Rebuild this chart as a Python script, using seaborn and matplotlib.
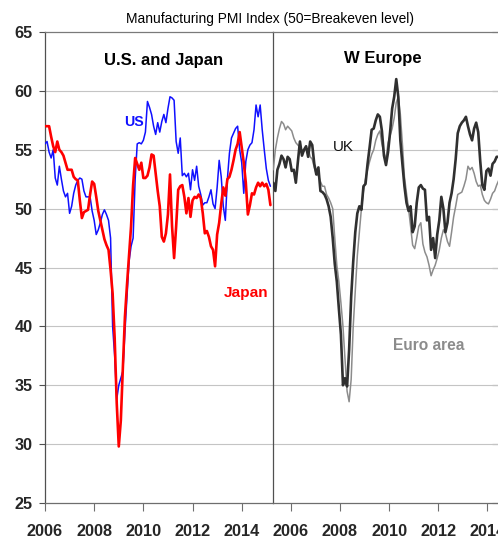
import numpy as np
import pandas as pd
import matplotlib
matplotlib.use("Agg")
import matplotlib.pyplot as plt
import seaborn as sns
from matplotlib import font_manager

# ---------------- data (monthly) ----------------
us = [55.5, 55.7, 54.8, 54.3, 55.0, 52.6, 52.0, 53.6, 52.5, 51.5,
      51.0, 51.3, 49.6, 50.2, 51.3, 52.0, 52.4, 52.6, 52.5, 51.5,
      51.0, 51.0, 51.0, 49.8, 49.0, 47.8, 48.2, 48.8, 49.5, 49.9,
      49.5, 49.0, 47.5, 40.0, 37.5, 33.8, 35.0, 35.6, 36.2, 39.5,
      42.5, 45.5, 46.8, 47.5, 52.5, 55.5, 55.6, 55.5, 55.8, 56.5,
      59.1, 58.6, 58.0, 57.0, 56.3, 57.3, 56.5, 57.4, 58.0, 57.3,
      58.5, 59.5, 59.4, 59.2, 55.7, 54.7, 56.0, 52.8, 53.0, 52.7,
      53.0, 51.6, 53.3, 52.4, 53.6, 51.9, 51.2, 50.3, 50.5, 50.5,
      51.0, 51.6, 50.4, 50.0, 51.8, 54.1, 52.7, 50.2, 49.0, 52.5,
      54.7, 56.0, 56.4, 56.8, 57.0, 55.0, 53.9, 51.3, 54.0, 55.0,
      55.4, 55.6, 56.7, 58.8, 57.8, 58.8, 56.7, 55.0, 53.4, 52.4,
      51.9]
japan = [57.0, 57.0, 57.0, 56.1, 55.3, 54.8, 55.7, 55.0, 54.8, 54.5,
         53.9, 53.3, 53.3, 53.3, 52.7, 52.5, 52.4, 50.7, 49.2, 49.7,
         49.8, 49.9, 51.2, 52.3, 52.1, 51.0, 49.8, 49.0, 48.2, 47.4,
         46.9, 46.5, 44.8, 42.8, 39.0, 33.5, 29.8, 32.0, 36.5, 40.8,
         43.5, 46.0, 48.5, 52.0, 54.3, 53.8, 53.3, 53.9, 52.6, 52.6,
         52.8, 53.5, 54.6, 54.5, 53.0, 51.5, 50.2, 47.6, 47.2, 47.9,
         49.5, 52.9, 48.5, 45.8, 48.5, 51.6, 51.9, 52.0, 51.0, 49.6,
         50.9, 49.3, 50.7, 51.0, 50.9, 51.2, 50.9, 49.6, 47.9, 48.1,
         47.6, 46.8, 46.5, 45.1, 47.8, 48.8, 50.4, 51.8, 51.1, 52.5,
         52.7, 53.3, 54.1, 55.0, 55.5, 56.5, 55.2, 53.9, 52.2, 49.5,
         50.3, 51.3, 51.2, 51.8, 52.2, 51.9, 52.2, 51.9, 52.1, 51.6,
         50.3]
uk = [52.2, 51.5, 53.3, 53.8, 54.5, 54.2, 53.5, 54.4, 54.2, 53.2,
      53.3, 52.2, 54.0, 55.7, 54.5, 55.0, 55.3, 54.4, 55.7, 55.4,
      53.8, 52.9, 53.5, 51.5, 51.4, 51.2, 50.8, 50.2, 49.3, 47.5,
      45.3, 43.8, 41.5, 39.3, 35.0, 35.6, 34.9, 38.0, 42.5, 45.5,
      48.0, 49.6, 50.2, 49.9, 51.9, 52.1, 53.8, 55.2, 56.7, 56.8,
      57.5, 58.0, 57.8, 56.6, 54.5, 53.7, 54.8, 56.5, 58.5, 59.5,
      61.0, 59.5, 55.8, 53.8, 51.9, 50.5, 49.8, 50.2, 48.0, 48.5,
      50.5, 51.8, 52.0, 51.7, 51.6, 49.0, 49.3, 46.5, 47.5, 45.8,
      47.8, 49.0, 51.0, 50.0, 48.0, 48.8, 50.5, 51.3, 52.5, 54.2,
      56.4, 57.0, 57.3, 57.5, 57.8, 57.0, 56.3, 55.8, 56.8, 57.3,
      56.5, 54.0, 52.0, 51.6, 53.2, 53.4, 52.8, 53.8, 54.0, 54.4,
      54.4]
euro = [53.3, 55.0, 56.0, 56.8, 57.4, 57.2, 56.7, 57.0, 56.8, 56.6,
        56.0, 55.6, 55.4, 55.2, 55.0, 54.9, 55.0, 55.1, 54.4, 54.2,
        53.5, 52.9, 52.8, 52.3, 51.9, 51.9, 51.2, 50.9, 50.5, 50.0,
        47.5, 45.2, 43.8, 42.0, 40.0, 37.2, 34.5, 33.6, 35.5, 40.0,
        43.0, 46.0, 48.0, 50.0, 51.5, 52.5, 53.3, 54.0, 54.6, 55.0,
        55.8, 56.3, 56.6, 55.5, 54.7, 54.2, 55.6, 56.2, 56.8, 57.7,
        59.0, 59.5, 58.0, 55.5, 52.7, 51.3, 50.0, 48.5, 46.9, 46.6,
        47.5, 48.5, 48.8, 47.0, 46.3, 45.9, 45.2, 44.3, 44.8, 45.2,
        45.8, 46.5, 47.5, 48.2, 47.9, 47.2, 46.8, 48.0, 49.3, 50.2,
        51.2, 51.3, 51.4, 51.9, 52.5, 53.6, 53.3, 53.5, 53.0, 52.3,
        51.9, 52.0, 51.2, 50.7, 50.5, 50.4, 50.8, 51.3, 51.5, 52.0,
        52.4]
tick_years = [2006, 2008, 2010, 2012, 2014]
y_ticks = [25, 30, 35, 40, 45, 50, 55, 60, 65]
title = "Manufacturing PMI Index (50=Breakeven level)"

# ---------------- style ----------------
sns.set_style("white")
names = {f.name for f in font_manager.fontManager.ttflist}
NARROW = "Liberation Sans Narrow" in names
if NARROW:
    fam = ["Liberation Sans Narrow", "Liberation Sans", "DejaVu Sans"]
    k = 1 / 0.82
else:
    fam = ["Liberation Sans", "DejaVu Sans"]
    k = 1.0
plt.rcParams["font.family"] = fam

W, H = 498, 550
fig = plt.figure(figsize=(W / 100, H / 100), dpi=100)
x0, xdiv, xr = 45.0, 273.3, 498.0
ytop, ybot = 32.0, 503.0
pxyr = 24.59
axL = fig.add_axes([x0 / W, 1 - ybot / H, (xdiv - x0) / W, (ybot - ytop) / H])
axR = fig.add_axes([xdiv / W, 1 - ybot / H, (xr - xdiv) / W, (ybot - ytop) / H])

left_start = 2006.0
right_start = 2005.29

dfL = pd.DataFrame({"x": left_start + np.arange(len(us)) / 12.0,
                    "US": us, "Japan": japan})
dfR = pd.DataFrame({"x": right_start + np.arange(len(uk)) / 12.0,
                    "UK": uk, "Euro": euro})

sns.lineplot(data=dfL, x="x", y="US", ax=axL, color="#1010ff",
             linewidth=1.1, estimator=None, zorder=3)
sns.lineplot(data=dfL, x="x", y="Japan", ax=axL, color="#ff0000",
             linewidth=1.9, estimator=None, zorder=4)
sns.lineplot(data=dfR, x="x", y="Euro", ax=axR, color="#8c8c8c",
             linewidth=1.1, estimator=None, zorder=3)
sns.lineplot(data=dfR, x="x", y="UK", ax=axR, color="#303030",
             linewidth=1.9, estimator=None, zorder=4)

axL.set_xlim(left_start, left_start + (xdiv - x0) / pxyr)
axR.set_xlim(right_start, right_start + (xr - xdiv) / pxyr)

tick_fs = 11.7 * k
for ax in (axL, axR):
    ax.set_ylim(25, 65)
    ax.set_xlabel("")
    ax.set_ylabel("")
    ax.set_yticks(y_ticks)
    ax.set_xticks(tick_years)
    ax.set_xticklabels([str(t) for t in tick_years], fontsize=tick_fs,
                       fontweight="bold")
    for yv in y_ticks[1:-1]:
        ax.axhline(yv, color="#c4c4c4", linewidth=0.8, zorder=1)
    ax.spines["top"].set_visible(True)
    ax.spines["top"].set_color("#7a7a7a")
    ax.spines["top"].set_linewidth(0.9)
    ax.spines["bottom"].set_color("#6e6e6e")
    ax.spines["bottom"].set_linewidth(0.9)
    ax.spines["right"].set_visible(False)
    ax.tick_params(axis="x", direction="out", length=6, width=0.8,
                   color="#6e6e6e", pad=9, bottom=True)
    ax.grid(False)

axL.spines["left"].set_color("#505050")
axL.spines["left"].set_linewidth(0.9)
axL.tick_params(axis="y", direction="out", length=4, width=0.8,
                color="#505050", pad=5, left=True)
axL.set_yticklabels([str(v) for v in y_ticks], fontsize=tick_fs,
                    fontweight="bold")

axR.spines["left"].set_color("#505050")
axR.spines["left"].set_linewidth(0.9)
axR.tick_params(axis="y", left=False, labelleft=False, right=True,
                direction="in", length=4, width=0.8, color="#505050",
                labelright=False)

def ftext(x, y, s, size, color="black", weight="normal"):
    fig.text(x / W, 1 - y / H, s, ha="center", va="baseline",
             fontsize=size, color=color, fontweight=weight)

ftext(269.5, 23.5, title, 9.9 * k)
ftext(163.3, 65, "U.S. and Japan", 12.0 * k, weight="bold")
ftext(383.0, 63.5, "W Europe", 12.0 * k, weight="bold")
ftext(133.5, 126, "US", 10.2 * k, color="#1010ff", weight="bold")
ftext(246.3, 296.7, "Japan", 11.1 * k, color="#ff0000", weight="bold")
ftext(343.0, 150.7, "UK", 10.9 * k, color="#111111")
ftext(429.0, 350, "Euro area", 11.2 * k, color="#8c8c8c", weight="bold")

fig.savefig("out.png", dpi=100)
